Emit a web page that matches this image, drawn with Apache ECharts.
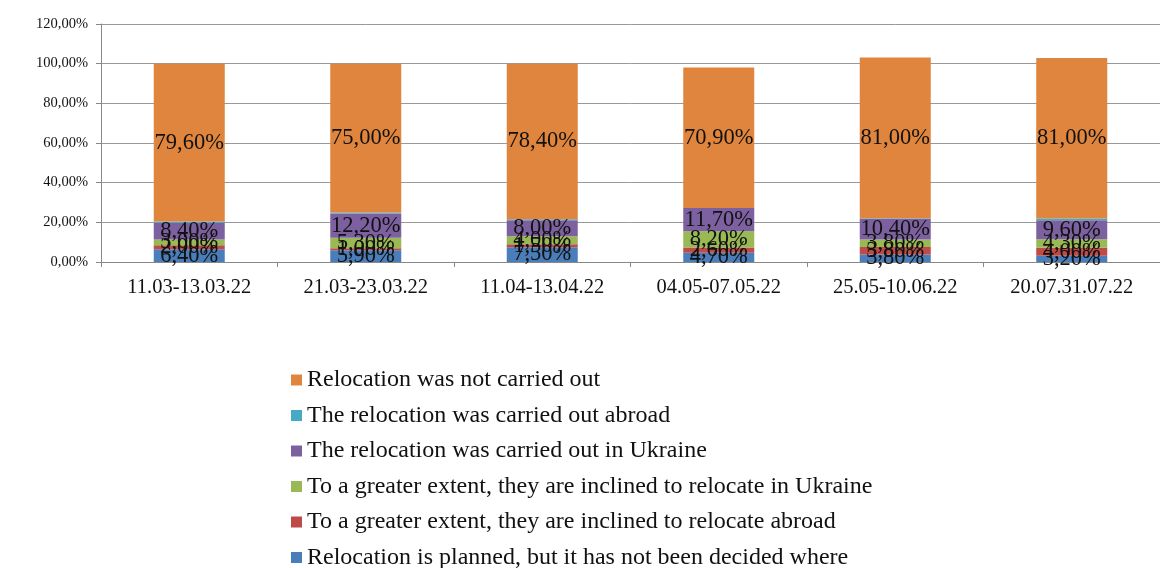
<!DOCTYPE html>
<html><head><meta charset="utf-8">
<script src="https://cdn.jsdelivr.net/npm/echarts@6/dist/echarts.min.js"></script>
<style>html,body{margin:0;padding:0;background:#fff}#c{width:1160px;height:568px}</style>
</head><body><div id="c"></div>
<script>
const categories = ['11.03-13.03.22','21.03-23.03.22','11.04-13.04.22','04.05-07.05.22','25.05-10.06.22','20.07.31.07.22'];
const planned     = [6.4, 5.9, 7.5, 4.7, 3.8, 3.2];
const abroadIncl  = [2.0, 1.0, 1.5, 2.6, 3.8, 4.0];
const ukraineIncl = [3.0, 5.3, 4.0, 8.2, 3.8, 4.3];
const doneUkraine = [8.4, 12.2, 8.0, 11.7, 10.4, 9.6];
const doneAbroad  = [0.6, 0.6, 0.6, 0.0, 0.3, 0.8];
const notDone     = [79.6, 75.0, 78.4, 70.9, 81.0, 81.0];
const yTicks = [0, 20, 40, 60, 80, 100, 120];

const names = {
  planned: 'Relocation is planned, but it has not been decided where',
  abroadIncl: 'To a greater extent, they are inclined to relocate abroad',
  ukraineIncl: 'To a greater extent, they are inclined to relocate in Ukraine',
  doneUkraine: 'The relocation was carried out in Ukraine',
  doneAbroad: 'The relocation was carried out abroad',
  notDone: 'Relocation was not carried out'
};
const serif = '"Liberation Serif", "DejaVu Serif", serif';
const fmt = v => v.toFixed(2).replace('.', ',') + '%';
function mk(name, data, color, showLabel) {
  return {
    name, type: 'bar', stack: 'a', data, barWidth: 71,
    itemStyle: { color },
    label: { show: showLabel, position: 'inside', color: '#111', fontFamily: serif, fontSize: 22.5,
      formatter: p => fmt(p.value) },
    emphasis: { disabled: true }
  };
}
const chart = echarts.init(document.getElementById('c'));
chart.setOption({
  animation: false,
  grid: { left: 101, top: 24, height: 238, width: 1071 },
  xAxis: {
    type: 'category', data: categories,
    axisLine: { lineStyle: { color: '#888' } },
    axisTick: { show: true, length: 5, lineStyle: { color: '#888' } },
    axisLabel: { color: '#111', fontFamily: serif, fontSize: 20.5, margin: 15 }
  },
  yAxis: {
    type: 'value', min: 0, max: 120, interval: 20,
    axisLine: { show: true, lineStyle: { color: '#888' } },
    axisTick: { show: true, length: 5, lineStyle: { color: '#888' } },
    splitLine: { lineStyle: { color: '#999' } },
    axisLabel: { color: '#111', fontFamily: serif, fontSize: 14.5, margin: 13,
      formatter: v => yTicks.includes(v) ? v.toFixed(2).replace('.', ',') + '%' : '' }
  },
  legend: {
    orient: 'vertical', left: 291, top: 368, height: 260, padding: 0,
    itemWidth: 11, itemHeight: 11, itemGap: 11.5, icon: 'rect',
    data: [names.notDone, names.doneAbroad, names.doneUkraine, names.ukraineIncl, names.abroadIncl, names.planned],
    textStyle: { color: '#111', fontFamily: serif, fontSize: 24, lineHeight: 24 }
  },
  series: [
    mk(names.planned, planned, '#4A7EBB', true),
    mk(names.abroadIncl, abroadIncl, '#BE4B48', true),
    mk(names.ukraineIncl, ukraineIncl, '#98B954', true),
    mk(names.doneUkraine, doneUkraine, '#7D60A0', true),
    mk(names.doneAbroad, doneAbroad, '#46AAC5', false),
    mk(names.notDone, notDone, '#E0853D', true)
  ]
});
</script></body></html>
